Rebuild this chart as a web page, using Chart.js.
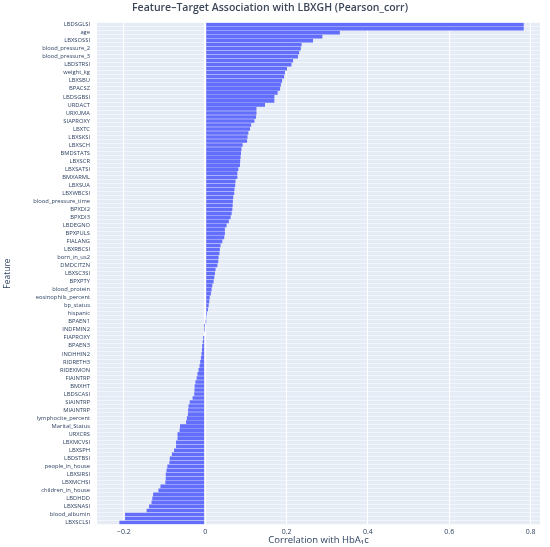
<!DOCTYPE html>
<html>
<head>
<meta charset="utf-8">
<script src="https://cdn.jsdelivr.net/npm/chart.js@4.4.0/dist/chart.umd.min.js"></script>
<style>
  body { margin: 0; background: #fff; }
  #wrap { width: 550px; height: 547px; }
</style>
</head>
<body>
<div id="wrap"><canvas id="mycanvas"></canvas></div>
<script>
// labelled features, top to bottom (only every other row gets a label)
var features = ['LBDSGLSI', 'age', 'LBXSOSSI', 'blood_pressure_2', 'blood_pressure_3', 'LBDSTRSI',
  'weight_kg', 'LBXSBU', 'BPACSZ', 'LBDSGBSI', 'URDACT', 'URXUMA', 'SIAPROXY', 'LBXTC', 'LBXSKSI',
  'LBXSCH', 'BMDSTATS', 'LBXSCR', 'LBXSATSI', 'BMXARML', 'LBXSUA', 'LBXWBCSI', 'blood_pressure_time',
  'BPXDI2', 'BPXDI3', 'LBDEGNO', 'BPXPULS', 'FIALANG', 'LBXRBCSI', 'born_in_us2', 'DMDCITZN',
  'LBXSC3SI', 'BPXPTY', 'blood_protein', 'eosinophils_percent', 'bp_status', 'hispanic', 'BPAEN1',
  'INDFMIN2', 'FIAPROXY', 'BPAEN3', 'INDHHIN2', 'RIDRETH3', 'RIDEXMON', 'FIAINTRP', 'BMXHT',
  'LBDSCASI', 'SIAINTRP', 'MIAINTRP', 'lymphocite_percent', 'Marital_Status', 'URXCRS', 'LBXMCVSI',
  'LBXSPH', 'LBDSTBSI', 'people_in_house', 'LBXSIRSI', 'LBXMCHSI', 'children_in_house', 'LBDHDD',
  'LBXSNASI', 'blood_albumin', 'LBXSCLSI'];

// pearson corr of every bar, top to bottom
var corr = [0.783, 0.783, 0.331, 0.288, 0.265, 0.237, 0.235, 0.231, 0.228, 0.216,
  0.212, 0.201, 0.196, 0.194, 0.189, 0.186, 0.184, 0.178, 0.170, 0.170,
  0.147, 0.126, 0.126, 0.125, 0.121, 0.113, 0.110, 0.106, 0.104, 0.103,
  0.092, 0.089, 0.088, 0.087, 0.086, 0.0855, 0.0815, 0.079, 0.079, 0.0745,
  0.0737, 0.072, 0.0713, 0.069, 0.068, 0.0675, 0.0667, 0.065, 0.0625, 0.058,
  0.0525, 0.0484, 0.0484, 0.0468, 0.042, 0.0377, 0.036, 0.035, 0.0328, 0.032,
  0.030, 0.0255, 0.024, 0.0222, 0.0206, 0.0174, 0.0157, 0.014, 0.011, 0.010,
  0.0084, 0.0067, 0.0042, 0.0017, 0.001, -0.0005, -0.001, -0.0025, -0.005, -0.006,
  -0.0074, -0.008, -0.009, -0.0106, -0.0123, -0.014, -0.0164, -0.019, -0.021, -0.024,
  -0.026, -0.0265, -0.027, -0.031, -0.038, -0.041, -0.042, -0.0425, -0.045, -0.047,
  -0.062, -0.063, -0.068, -0.068, -0.0717, -0.0717, -0.0766, -0.082, -0.087, -0.088,
  -0.093, -0.095, -0.097, -0.097, -0.098, -0.110, -0.115, -0.128, -0.130, -0.132,
  -0.138, -0.144, -0.197, -0.197, -0.211];

var xTicks = [-0.2, 0, 0.2, 0.4, 0.6, 0.8];

// full category list, labelled rows sit at even positions
var categories = [];
for (var i = 0; i < corr.length; i++) {
  categories.push(i % 2 === 0 ? features[i / 2] : '');
}

var FONT = "'Open Sans', sans-serif";
var INK = '#2a3f5f';

// plotly style plot background
var plotBg = {
  id: 'plotBg',
  beforeDraw: function(chart) {
    var a = chart.chartArea;
    var ctx = chart.ctx;
    ctx.save();
    ctx.fillStyle = '#E5ECF6';
    ctx.fillRect(a.left, a.top, a.right - a.left, a.bottom - a.top);
    ctx.restore();
  }
};

var ctx = document.getElementById('mycanvas');
var barGraph = new Chart(ctx, {
  type: 'bar',
  data: {
    labels: categories,
    datasets: [{
      data: corr,
      backgroundColor: '#636EFA',
      categoryPercentage: 1.0,
      barPercentage: 0.9
    }]
  },
  options: {
    indexAxis: 'y',
    responsive: true,
    maintainAspectRatio: false,
    animation: false,
    layout: { padding: { left: 0, right: 10, top: 0, bottom: 0 } },
    plugins: {
      legend: { display: false },
      tooltip: { enabled: false },
      title: {
        display: true,
        text: 'Feature\u2013Target Association with LBXGH (Pearson_corr)',
        color: '#3b4658',
        font: { family: FONT, size: 10.5, weight: '600' },
        padding: { top: 2, bottom: 8 }
      }
    },
    scales: {
      x: {
        min: -0.266,
        max: 0.823,
        afterBuildTicks: function(s) {
          s.ticks = xTicks.map(function(v) { return { value: v }; });
        },
        afterFit: function(s) { s.height = 22.5; },
        grid: {
          color: '#ffffff',
          lineWidth: function(c) { return c.tick && c.tick.value === 0 ? 2 : 1; },
          drawTicks: false
        },
        border: { display: false },
        ticks: {
          color: INK,
          font: { family: FONT, size: 7 },
          padding: 3,
          callback: function(v) {
            if (v === 0) return '0';
            return (v < 0 ? '\u2212' : '') + Math.abs(v).toFixed(1);
          }
        },
        title: {
          display: true,
          text: 'Correlation with HbA\u2081c',
          color: INK,
          font: { family: FONT, size: 9.5 },
          padding: { top: 0, bottom: 1 }
        }
      },
      y: {
        afterFit: function(s) { s.width = 97; },
        grid: { color: '#ffffff', lineWidth: 0.5, drawTicks: false },
        border: { display: false },
        ticks: {
          autoSkip: false,
          color: INK,
          font: { family: FONT, size: 5.8 },
          padding: 7,
          callback: function(v, idx) { return categories[idx]; }
        },
        title: {
          display: true,
          text: 'Feature',
          color: INK,
          font: { family: FONT, size: 8.5 },
          padding: { top: 2, bottom: 0 }
        }
      }
    }
  },
  plugins: [plotBg]
});
</script>
</body>
</html>
